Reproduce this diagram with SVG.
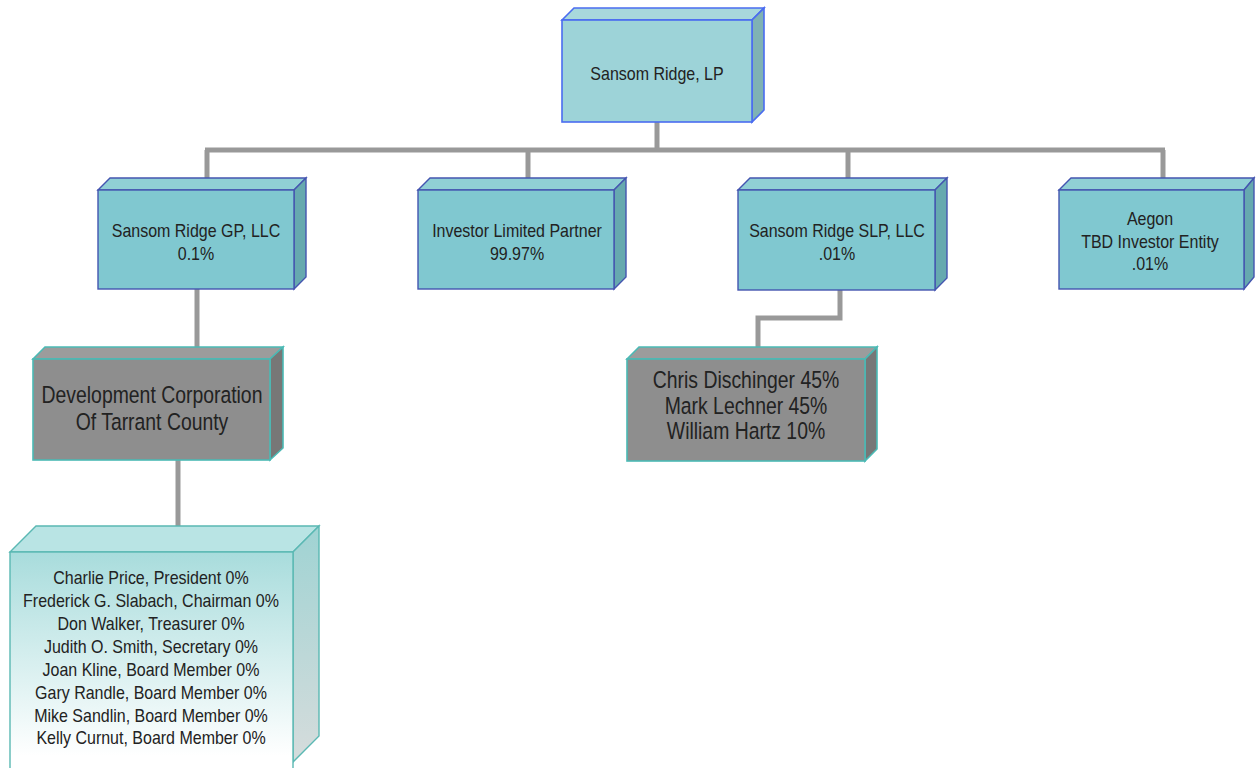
<svg xmlns="http://www.w3.org/2000/svg" width="1257" height="768" viewBox="0 0 1257 768">
<defs>
<style>
.conn{fill:none;stroke:#999;stroke-width:5}
.tf{fill:#9dd3d8;stroke:#4a6cf0;stroke-width:1.6}
.tt{fill:#a8d8dc;stroke:#4a6cf0;stroke-width:1.6}
.ts{fill:#7fb2b4;stroke:#4a6cf0;stroke-width:1.6}
.bf{fill:#80c8d0;stroke:#4455b0;stroke-width:1.4}
.bt{fill:#90d0d5;stroke:#4455b0;stroke-width:1.4}
.bs{fill:#66a9af;stroke:#4455b0;stroke-width:1.4}
.gf{fill:#8e8e8e;stroke:#4bbab5;stroke-width:1.6}
.gt{fill:#9c9c9c;stroke:#4bbab5;stroke-width:1.6}
.gs{fill:#777;stroke:#4bbab5;stroke-width:1.6}
.lf{fill:url(#lfg);stroke:#5ab8b3;stroke-width:1.4}
.lt{fill:#b9e4e4;stroke:#5ab8b3;stroke-width:1.4}
.ls{fill:url(#lsg);stroke:#5ab8b3;stroke-width:1.4}
text{font-family:"Liberation Sans",Arial,sans-serif;fill:#222;text-anchor:middle}
.s16{font-size:16px}
.s19{font-size:19.4px}
</style>
<linearGradient id="lfg" x1="0" y1="0" x2="0" y2="1">
<stop offset="0" stop-color="#a8dcdc"/>
<stop offset="0.85" stop-color="#ffffff"/>
</linearGradient>
<linearGradient id="lsg" x1="0" y1="0" x2="0" y2="1">
<stop offset="0" stop-color="#9fd3d3"/>
<stop offset="1" stop-color="#d6dcdc"/>
</linearGradient>
</defs>
<rect width="1257" height="768" fill="#fff"/>
<g id="connectors">
<path class="conn" d="M657,122 V150"/>
<path class="conn" d="M205,150 H1165"/>
<path class="conn" d="M207,150 V190 M528,150 V190 M848,150 V190 M1163,150 V190"/>
<path class="conn" d="M197,289 V359"/>
<path class="conn" d="M178,460 V552"/>
<path class="conn" d="M840,290 V318 H758 V359"/>
</g>
<g id="n-top">
<polygon class="tt" points="562,20 574,8 764,8 752,20"/>
<polygon class="ts" points="752,20 764,8 764,110 752,122"/>
<rect class="tf" x="562" y="20" width="190" height="102"/>
<text class="s16" transform="translate(657,80) scale(1,1.2)">Sansom Ridge, LP</text>
</g>
<g id="n-gp">
<polygon class="bt" points="98,190 110,178 306,178 294,190"/>
<polygon class="bs" points="294,190 306,178 306,277 294,289"/>
<rect class="bf" x="98" y="190" width="196" height="99"/>
<text class="s16" transform="translate(196,237) scale(1,1.2)"><tspan x="0" y="0">Sansom Ridge GP, LLC</tspan><tspan x="0" dy="18.8">0.1%</tspan></text>
</g>
<g id="n-investor">
<polygon class="bt" points="418,190 430,178 626,178 614,190"/>
<polygon class="bs" points="614,190 626,178 626,277 614,289"/>
<rect class="bf" x="418" y="190" width="196" height="99"/>
<text class="s16" transform="translate(517,237) scale(1,1.2)"><tspan x="0" y="0">Investor Limited Partner</tspan><tspan x="0" dy="18.8">99.97%</tspan></text>
</g>
<g id="n-slp">
<polygon class="bt" points="738,190 750,178 947,178 935,190"/>
<polygon class="bs" points="935,190 947,178 947,278 935,290"/>
<rect class="bf" x="738" y="190" width="197" height="100"/>
<text class="s16" transform="translate(837,237) scale(1,1.2)"><tspan x="0" y="0">Sansom Ridge SLP, LLC</tspan><tspan x="0" dy="18.8">.01%</tspan></text>
</g>
<g id="n-aegon">
<polygon class="bt" points="1059,190 1071,178 1254,178 1244,190"/>
<polygon class="bs" points="1244,190 1254,178 1254,277 1244,289"/>
<rect class="bf" x="1059" y="190" width="185" height="99"/>
<text class="s16" transform="translate(1150,225) scale(1,1.2)"><tspan x="0" y="0">Aegon</tspan><tspan x="0" dy="18.8">TBD Investor Entity</tspan><tspan x="0" dy="18.8">.01%</tspan></text>
</g>
<g id="n-devcorp">
<polygon class="gt" points="33,359 45,347 283,347 270,359"/>
<polygon class="gs" points="270,359 283,347 283,448 270,460"/>
<rect class="gf" x="33" y="359" width="237" height="101"/>
<text class="s19" transform="translate(152,403) scale(1,1.2)"><tspan x="0" y="0">Development Corporation</tspan><tspan x="0" dy="22.5">Of Tarrant County</tspan></text>
</g>
<g id="n-owners">
<polygon class="gt" points="627,359 639,347 877,347 865,359"/>
<polygon class="gs" points="865,359 877,347 877,449 865,461"/>
<rect class="gf" x="627" y="359" width="238" height="102"/>
<text class="s19" transform="translate(746,388) scale(1,1.2)"><tspan x="0" y="0">Chris Dischinger 45%</tspan><tspan x="0" dy="21.3">Mark Lechner 45%</tspan><tspan x="0" dy="21.3">William Hartz 10%</tspan></text>
</g>
<g id="n-board">
<polygon class="lt" points="10,552 36,526 319,526 293,552"/>
<polygon class="ls" points="293,552 319,526 319,736 293,762"/>
<rect class="lf" x="10" y="552" width="283" height="240"/>
<text class="s16" transform="translate(151,584) scale(1,1.2)"><tspan x="0" y="0">Charlie Price, President 0%</tspan><tspan x="0" dy="19.1">Frederick G. Slabach, Chairman 0%</tspan><tspan x="0" dy="19.1">Don Walker, Treasurer 0%</tspan><tspan x="0" dy="19.1">Judith O. Smith, Secretary 0%</tspan><tspan x="0" dy="19.1">Joan Kline, Board Member 0%</tspan><tspan x="0" dy="19.1">Gary Randle, Board Member 0%</tspan><tspan x="0" dy="19.1">Mike Sandlin, Board Member 0%</tspan><tspan x="0" dy="19.1">Kelly Curnut, Board Member 0%</tspan></text>
</g>
</svg>
